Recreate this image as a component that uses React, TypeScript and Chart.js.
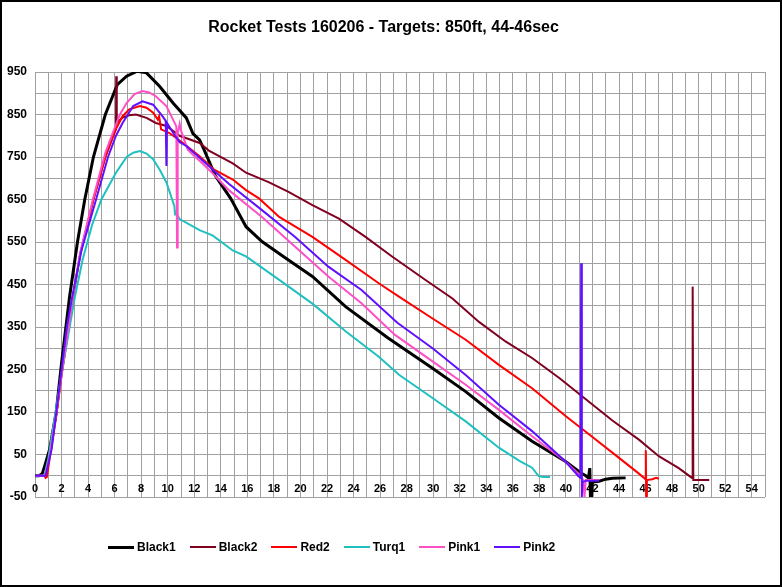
import React, { useEffect, useRef } from 'react';
import { Chart, registerables } from 'chart.js';

Chart.register(...registerables);

// ---- data (time in seconds, altitude in ft) ----
const black1T = [0, 0.3, 0.55, 0.75, 1.1, 1.6, 2.0, 2.6, 3.2, 3.75, 4.4, 5.3, 6.2, 6.9, 7.7, 8.4, 9.4, 10.4, 11.4, 11.9, 12.4, 12.75, 13.6, 14.75, 15.9, 17.1, 18.9, 20.9, 23.4, 26.6, 29.95, 32.45, 34.95, 37.45, 39.95, 41.1, 41.5, 41.7, 41.8, 41.85, 41.95, 42.0, 42.5, 43.0, 43.5, 44.5];
const black1V = [0, 0, 5, 25, 62, 150, 265, 420, 550, 650, 750, 850, 920, 940, 952, 948, 916, 877, 842, 805, 790, 766, 705, 652, 586, 551, 512, 469, 398, 324, 253, 198, 136, 81, 34, 7, 0, -5, 18, -50, -50, -15, -13, -8, -6, -5];

const black2T = [0, 0.75, 1.1, 1.6, 2.0, 2.5, 2.75, 3.4, 4.4, 5.3, 5.9, 6.1, 6.12, 6.16, 6.6, 7.1, 7.6, 8.4, 9.1, 9.9, 10.9, 12.4, 13.1, 14.9, 15.9, 17.6, 19.1, 20.9, 22.9, 24.9, 26.9, 29.45, 31.45, 33.45, 35.45, 37.45, 39.5, 41.5, 43.5, 45.5, 47.0, 48.5, 49.5, 49.55, 49.6, 50.8];
const black2V = [0, 0, 50, 145, 240, 340, 400, 520, 650, 750, 800, 815, 940, 830, 843, 848, 850, 842, 830, 823, 800, 783, 765, 735, 713, 691, 668, 637, 605, 562, 516, 460, 417, 362, 316, 277, 230, 180, 130, 85, 46, 18, -5, 445, -10, -10];

const red2T = [0, 0.7, 0.8, 0.9, 1.1, 1.6, 2.0, 2.5, 2.75, 3.4, 4.4, 5.3, 6.0, 6.6, 7.1, 7.9, 8.4, 8.9, 9.25, 9.35, 9.5, 10.1, 11.1, 12.4, 13.5, 14.9, 15.9, 16.9, 18.4, 20.9, 23.4, 25.9, 27.45, 29.95, 32.45, 34.95, 37.45, 40.0, 42.0, 44.0, 45.5, 46.0, 46.02, 46.05, 46.1, 46.5, 46.8, 47.0];
const red2V = [0, 0, -5, -3, 40, 140, 235, 340, 400, 520, 650, 750, 810, 846, 862, 870, 866, 854, 838, 846, 815, 807, 784, 752, 720, 697, 672, 652, 609, 562, 508, 453, 421, 370, 320, 261, 206, 140, 91, 42, 5, -8, 60, -50, -10, -8, -5, -7];

const turq1T = [0, 0.7, 1.0, 1.5, 2.0, 2.5, 3.0, 3.6, 4.3, 5.0, 6.1, 6.9, 7.4, 7.9, 8.4, 8.9, 9.4, 9.9, 10.5, 10.55, 10.6, 10.9, 12.4, 13.4, 14.9, 15.9, 18.4, 20.9, 23.4, 25.9, 27.45, 29.95, 32.45, 34.95, 36.5, 37.45, 37.95, 38.3, 38.8];
const turq1V = [0, 0, 40, 140, 240, 330, 420, 510, 590, 650, 713, 750, 760, 764, 758, 745, 720, 690, 635, 615, 620, 604, 578, 565, 530, 516, 461, 405, 340, 280, 237, 183, 128, 66, 35, 19, -1, -3, -3];

const pink1T = [0, 0.75, 1.1, 1.6, 2.0, 2.5, 2.75, 3.4, 4.4, 5.3, 5.9, 6.4, 6.9, 7.5, 8.1, 8.6, 9.1, 9.9, 10.4, 10.65, 10.7, 10.75, 10.9, 11.0, 11.5, 12.0, 12.5, 13.4, 14.6, 17.1, 19.6, 22.1, 24.6, 27.1, 29.95, 32.45, 34.95, 37.45, 39.95, 41.1, 41.3, 41.4, 41.5, 42.5];
const pink1V = [0, 0, 45, 145, 240, 345, 400, 525, 655, 760, 810, 850, 877, 898, 905, 902, 893, 870, 838, 822, 537, 805, 828, 812, 768, 752, 738, 711, 672, 609, 539, 469, 406, 332, 269, 214, 155, 93, 34, 0, -10, -50, -10, -10];

const pink2T = [0, 0.8, 1.25, 1.6, 2.0, 2.4, 2.75, 3.5, 4.6, 5.5, 6.1, 6.6, 7.4, 8.1, 8.9, 9.6, 9.85, 9.9, 9.95, 10.4, 10.9, 11.4, 12.9, 14.6, 17.1, 19.6, 22.1, 24.6, 27.3, 29.95, 32.45, 34.95, 37.45, 39.95, 40.95, 41.1, 41.15, 41.2, 41.25, 41.5, 42.5];
const pink2V = [0, 0, 62, 148, 249, 350, 413, 530, 650, 750, 800, 830, 870, 881, 873, 846, 835, 729, 830, 807, 785, 776, 734, 687, 625, 562, 492, 437, 360, 300, 237, 167, 105, 34, -1, -5, 500, -50, -15, -12, -12];

const seriesNames = ['Black1', 'Black2', 'Red2', 'Turq1', 'Pink1', 'Pink2'];
const seriesTimes = [black1T, black2T, red2T, turq1T, pink1T, pink2T];
const seriesValues = [black1V, black2V, red2V, turq1V, pink1V, pink2V];

const xTickLabels = [0, 2, 4, 6, 8, 10, 12, 14, 16, 18, 20, 22, 24, 26, 28, 30, 32, 34, 36, 38, 40, 42, 44, 46, 48, 50, 52, 54];
const yTickLabels = [950, 850, 750, 650, 550, 450, 350, 250, 150, 50, -50];
const chartTitle = 'Rocket Tests 160206 - Targets: 850ft, 44-46sec';

// ---- styles ----
const seriesStyles = [
  { color: '#000000', width: 3 },
  { color: '#800020', width: 2 },
  { color: '#ff0000', width: 2 },
  { color: '#20c0c0', width: 2 },
  { color: '#ff4fc8', width: 2 },
  { color: '#6010ff', width: 2 },
];
const FONT = '"Liberation Sans", Arial, sans-serif';
const GRID = '#a0a0a0';

export default function App() {
  const canvasRef = useRef<HTMLCanvasElement | null>(null);

  useEffect(() => {
    document.body.style.margin = '0';
    const canvas = canvasRef.current;
    if (!canvas) return;
    const datasets = seriesNames.map((name, i) => ({
      label: name,
      data: seriesTimes[i].map((t, j) => ({ x: t, y: seriesValues[i][j] })),
      borderColor: seriesStyles[i].color,
      backgroundColor: seriesStyles[i].color,
      borderWidth: seriesStyles[i].width,
      pointRadius: 0,
      fill: false,
      tension: 0,
      order: seriesNames.length - 1 - i,
    }));
    const chart = new Chart(canvas, {
      type: 'line',
      data: { datasets },
      options: {
        responsive: false,
        animation: false,
        layout: { padding: { left: 0, right: 15, top: 0, bottom: 88 } },
        plugins: {
          legend: { display: false },
          tooltip: { enabled: false },
          title: {
            display: true,
            text: chartTitle,
            color: '#000',
            font: { family: FONT, size: 16, weight: 'bold' },
            padding: { top: 16.4, bottom: 34.4 },
          },
        },
        scales: {
          x: {
            type: 'linear',
            position: { y: 0 },
            min: 0,
            max: 55,
            grid: { color: GRID, lineWidth: 1, drawTicks: false },
            border: { display: false },
            ticks: {
              stepSize: 1,
              autoSkip: false,
              maxRotation: 0,
              padding: 7,
              color: '#000',
              font: { family: FONT, size: 11, weight: 'bold' },
              callback: (v: any) => (xTickLabels.includes(Number(v)) ? String(v) : ''),
            },
          },
          y: {
            type: 'linear',
            min: -50,
            max: 950,
            afterFit: (s: any) => { s.width = 33; },
            grid: { color: GRID, lineWidth: 1, drawTicks: false },
            border: { display: false },
            ticks: {
              stepSize: 50,
              autoSkip: false,
              padding: 8,
              color: '#000',
              font: { family: FONT, size: 12, weight: 'bold' },
              callback: (v: any) => (yTickLabels.includes(Number(v)) ? String(v) : ''),
            },
          },
        },
      } as any,
    });
    return () => chart.destroy();
  }, []);

  return (
    <div
      style={{
        position: 'relative',
        width: 782,
        height: 587,
        border: '2px solid #000',
        boxSizing: 'border-box',
        background: '#fff',
      }}
    >
      <canvas ref={canvasRef} width={778} height={583} style={{ display: 'block', width: 778, height: 583 }} />
      <div
        style={{
          position: 'absolute',
          left: 106,
          top: 537,
          height: 16,
          display: 'flex',
          alignItems: 'center',
          fontFamily: FONT,
          fontWeight: 'bold',
          fontSize: 12,
          color: '#000',
          whiteSpace: 'nowrap',
        }}
      >
        {seriesNames.map((name, i) => (
          <div key={name} style={{ display: 'flex', alignItems: 'center', marginRight: 14 }}>
            <span
              style={{
                display: 'inline-block',
                width: 26,
                height: seriesStyles[i].width,
                background: seriesStyles[i].color,
                marginRight: 3,
              }}
            />
            <span>{name}</span>
          </div>
        ))}
      </div>
    </div>
  );
}
